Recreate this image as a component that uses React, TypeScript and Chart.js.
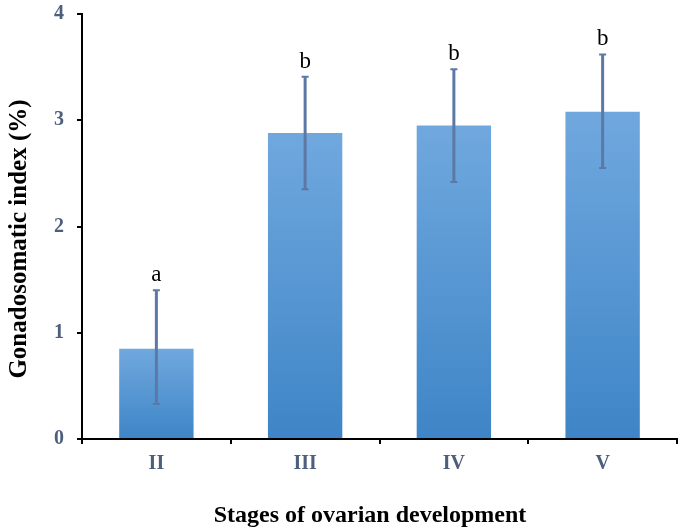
import React, { useEffect, useRef } from "react";
import { Chart, registerables } from "chart.js";

Chart.register(...registerables);

const categories = ["II", "III", "IV", "V"];
const meanValues = [0.85, 2.88, 2.95, 3.08];
const errorLow = [0.33, 2.35, 2.42, 2.55];
const errorHigh = [1.4, 3.41, 3.48, 3.62];
const groupLetters = ["a", "b", "b", "b"];
const yTicks = [0, 1, 2, 3, 4];
const xTitle = "Stages of ovarian development";
const yTitle = "Gonadosomatic index (%)";

const SERIF = "'Liberation Serif', 'Times New Roman', serif";
const TICK_COLOR = "#4e5f7e";
const ERR_COLOR = "#5c78a4";

const overlayPlugin = {
  id: "overlay",
  afterDatasetsDraw(chart: any) {
    const ctx = chart.ctx;
    const meta = chart.getDatasetMeta(0);
    const y = chart.scales.y;
    ctx.save();
    // error bars
    ctx.strokeStyle = ERR_COLOR;
    meta.data.forEach((bar: any, i: number) => {
      const x = bar.x;
      const yl = y.getPixelForValue(errorLow[i]);
      const yh = y.getPixelForValue(errorHigh[i]);
      ctx.lineWidth = 3;
      ctx.beginPath();
      ctx.moveTo(x, yl);
      ctx.lineTo(x, yh);
      ctx.stroke();
      ctx.lineWidth = 2;
      ctx.beginPath();
      ctx.moveTo(x - 3.5, yl);
      ctx.lineTo(x + 3.5, yl);
      ctx.moveTo(x - 3.5, yh);
      ctx.lineTo(x + 3.5, yh);
      ctx.stroke();
    });
    // letters
    ctx.fillStyle = "#000";
    ctx.font = `23px ${SERIF}`;
    ctx.textAlign = "center";
    ctx.textBaseline = "alphabetic";
    meta.data.forEach((bar: any, i: number) => {
      const yh = y.getPixelForValue(errorHigh[i]);
      ctx.fillText(groupLetters[i], bar.x, yh - 9);
    });
    // axis titles
    ctx.font = `bold 24px ${SERIF}`;
    ctx.textBaseline = "middle";
    ctx.fillText(xTitle, 370, 516);
    ctx.font = `bold 25px ${SERIF}`;
    ctx.translate(20, 239);
    ctx.rotate(-Math.PI / 2);
    ctx.fillText(yTitle, 0, 0);
    ctx.restore();
  },
};

export default function App() {
  const ref = useRef<HTMLCanvasElement>(null);
  useEffect(() => {
    if (!ref.current) return;
    const chart = new Chart(ref.current, {
      type: "bar",
      data: {
        labels: categories,
        datasets: [
          {
            data: meanValues,
            barPercentage: 1,
            categoryPercentage: 0.5,
            backgroundColor: (c: any) => {
              const ch = c.chart;
              const ys = ch.scales && ch.scales.y;
              if (!ys || !ch.chartArea || c.dataIndex === undefined) return "#5b9bd5";
              const top = ys.getPixelForValue(meanValues[c.dataIndex]);
              const bottom = ys.getPixelForValue(0);
              const g = ch.ctx.createLinearGradient(0, top, 0, bottom);
              g.addColorStop(0, "#70a8de");
              g.addColorStop(1, "#3e85c7");
              return g;
            },
            borderWidth: 0,
          },
        ],
      },
      options: {
        responsive: false,
        animation: false,
        layout: { padding: { top: 14, right: 8, left: 0, bottom: 0 } },
        plugins: { legend: { display: false }, tooltip: { enabled: false } },
        scales: {
          x: {
            ticks: {
              font: { family: SERIF, size: 20, weight: "bold" },
              color: TICK_COLOR,
              padding: 8,
            },
            grid: {
              display: true,
              offset: true,
              drawOnChartArea: false,
              drawTicks: true,
              tickLength: 5,
              color: "#000",
              lineWidth: 2,
            },
            border: { display: true, color: "#000", width: 2 },
            afterFit: (s: any) => {
              s.height = 91;
              s.paddingLeft = 0;
              s.paddingRight = 0;
            },
          },
          y: {
            min: 0,
            max: 4,
            afterBuildTicks: (s: any) => {
              s.ticks = yTicks.map((v) => ({ value: v }));
            },
            ticks: {
              font: { family: SERIF, size: 20, weight: "bold" },
              color: TICK_COLOR,
              padding: 13,
            },
            grid: {
              display: true,
              drawOnChartArea: false,
              drawTicks: true,
              tickLength: 5,
              color: "#000",
              lineWidth: 2,
            },
            border: { display: true, color: "#000", width: 2 },
            afterFit: (s: any) => {
              s.width = 82;
              s.paddingTop = 0;
              s.paddingBottom = 0;
            },
          },
        },
      },
      plugins: [overlayPlugin],
    });
    return () => chart.destroy();
  }, []);
  return (
    <div style={{ position: "fixed", left: 0, top: 0, width: 685, height: 530, background: "#fff" }}>
      <canvas ref={ref} width={685} height={530} style={{ display: "block" }} />
    </div>
  );
}
